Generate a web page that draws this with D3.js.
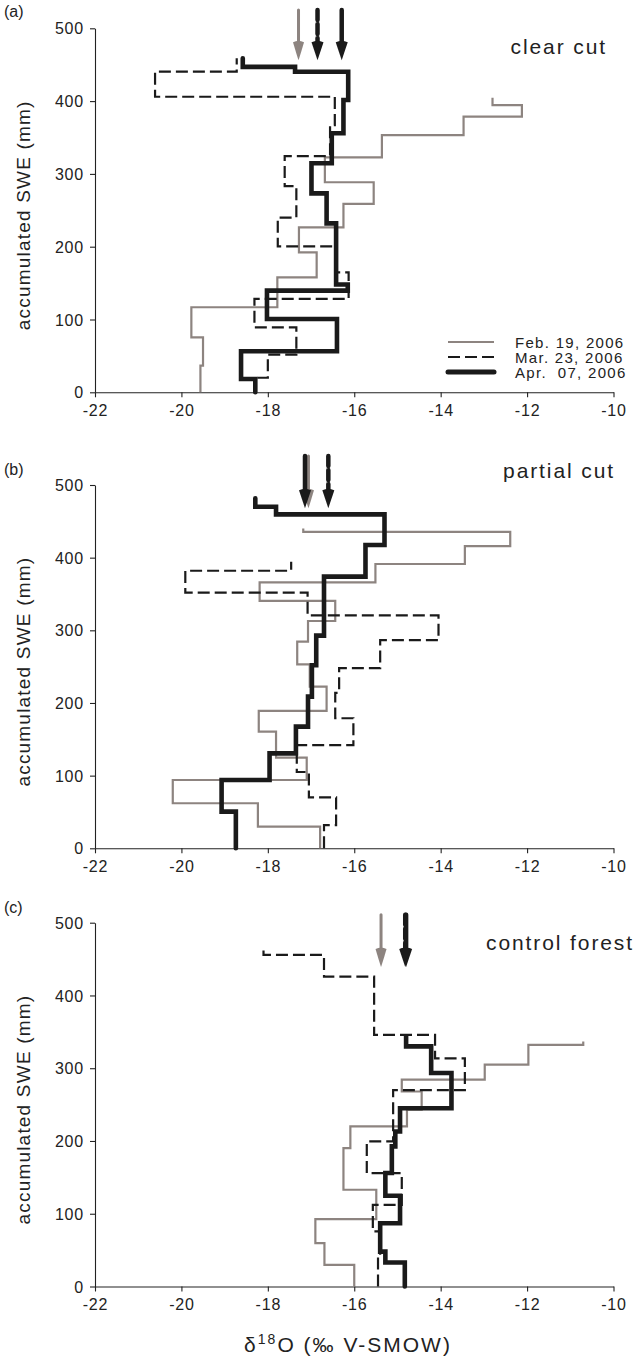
<!DOCTYPE html>
<html>
<head>
<meta charset="utf-8">
<script src="https://cdn.jsdelivr.net/npm/d3@7"></script>
<style>
  body { margin: 0; background: #fff; }
  svg { display: block; font-family: "Liberation Sans", Arial, sans-serif; }
</style>
</head>
<body>
<svg id="chart" width="636" height="1367"></svg>
<script>
// axis ticks
const xTicks = [-22, -20, -18, -16, -14, -12, -10];
const yTicks = [0, 100, 200, 300, 400, 500];

const seriesNames = ["Feb. 19, 2006", "Mar. 23, 2006", "Apr.  07, 2006"];
const panelLabels = ["(a)", "(b)", "(c)"];
const siteNames = ["clear cut", "partial cut", "control forest"];

// snowpack layers: boundaries in accumulated SWE (mm), one d18O value per layer
// clear cut
const clearFebSWE = [0, 36.6, 75.5, 116.8, 158, 192.3, 226.6, 258.7, 288.5, 322.8, 353.4, 378.6, 394.6, 404.7];
const clearFebD18O = [-19.56, -19.50, -19.77, -17.78, -16.87, -17.28, -16.25, -15.55, -16.68, -15.36, -13.47, -12.12, -12.80];
const clearMarSWE = [0, 20, 51.7, 89.3, 128.2, 164.8, 200.5, 240, 283.2, 324.4, 367, 406, 440.4, 458.8];
const clearMarD18O = [-18.30, -18.00, -17.34, -18.31, -16.13, -16.44, -17.77, -17.34, -17.61, -16.56, -16.45, -20.61, -18.72];
const clearAprSWE = [0, 18.3, 56.3, 100.7, 139.7, 148, 232, 273.3, 314.6, 355.8, 401.5, 440.4, 447, 458.8];
const clearAprD18O = [-18.29, -18.62, -16.40, -18.02, -16.15, -16.42, -16.64, -16.99, -16.52, -16.25, -16.14, -17.37, -18.58];
const clearArrows = [-17.29, -16.85, -16.29];

// partial cut
const partialFebSWE = [0, 29.8, 62, 94, 124.8, 160.6, 189, 222.5, 253, 284.4, 312.8, 340.4, 366, 391.3, 415.8, 435.5, 440];
const partialFebD18O = [-16.79, -18.23, -20.20, -17.10, -17.81, -18.21, -16.64, -17.03, -17.32, -17.07, -16.44, -18.19, -15.51, -13.44, -12.39, -17.18];
const partialMarSWE = [0, 32, 70, 105, 142, 179, 214, 248, 286.5, 320.5, 352, 382, 394.5];
const partialMarD18O = [-16.70, -16.42, -17.05, -17.33, -16.02, -16.44, -16.35, -15.40, -14.05, -17.08, -19.91, -17.46];
const partialAprSWE = [0, 50.5, 94, 130.7, 167.4, 208.7, 252, 292.7, 373.9, 417.4, 459.6, 470, 481.7];
const partialAprD18O = [-18.74, -19.07, -17.96, -17.35, -17.07, -16.98, -16.88, -16.70, -15.74, -15.30, -17.81, -18.29];
const partialArrows = [-17.06, -16.60, -17.14];

// control forest
const controlFebSWE = [0, 29.8, 59.6, 92.6, 133, 190.3, 220, 243, 268, 284.3, 305, 332, 336.7];
const controlFebD18O = [-16.00, -16.69, -16.90, -15.49, -16.25, -16.09, -14.78, -14.44, -14.90, -12.98, -11.97, -10.70];
const controlMarSWE = [0, 41.3, 75.7, 112.3, 155.8, 199.4, 270, 313.6, 345.8, 426, 455.7, 466];
const controlMarD18O = [-15.45, -15.40, -15.57, -14.90, -15.71, -15.10, -13.44, -14.13, -15.54, -16.70, -18.10];
const controlAprSWE = [0, 33, 48, 87, 124.7, 156, 192.6, 213, 245, 293.4, 330, 344];
const controlAprD18O = [-14.83, -15.28, -15.40, -14.94, -15.28, -15.13, -15.05, -14.94, -13.75, -14.22, -14.80];
const controlArrows = [-15.38, -14.82, -14.80];

const GREY = "#8d8480";
const styles = [
  { stroke: GREY, width: 2.2, dash: null, shaft: 3, head: GREY, shaftDash: null },
  { stroke: "#1a1a1a", width: 2.2, dash: "12,5", shaft: 4.5, head: "#1a1a1a", shaftDash: "10,4" },
  { stroke: "#1a1a1a", width: 4.6, dash: null, shaft: 4.5, head: "#1a1a1a", shaftDash: null }
];

const panels = [
  { y0: 392.3, y500: 28.3, arrowTail: 525, arrowTip: 456, labelY: 17, titleY: 54, titleX: 607,
    series: [[clearFebSWE, clearFebD18O], [clearMarSWE, clearMarD18O], [clearAprSWE, clearAprD18O]],
    arrows: clearArrows, legend: true },
  { y0: 848.3, y500: 485, arrowTail: 540, arrowTip: 468, labelY: 475, titleY: 478, titleX: 615,
    series: [[partialFebSWE, partialFebD18O], [partialMarSWE, partialMarD18O], [partialAprSWE, partialAprD18O]],
    arrows: partialArrows, legend: false },
  { y0: 1286.5, y500: 922.7, arrowTail: 511, arrowTip: 439, labelY: 913, titleY: 950, titleX: 634,
    series: [[controlFebSWE, controlFebD18O], [controlMarSWE, controlMarD18O], [controlAprSWE, controlAprD18O]],
    arrows: controlArrows, legend: false }
];

const svg = d3.select("#chart");
svg.append("rect").attr("width", 636).attr("height", 1367).attr("fill", "#fff");

const x = d3.scaleLinear().domain([-22, -10]).range([95, 613.5]);
const line = d3.line();

// turn layer table into a vertical step profile
function profile(swe, vals, y) {
  const pts = [];
  vals.forEach((v, i) => {
    pts.push([x(v), y(swe[i])]);
    pts.push([x(v), y(swe[i + 1])]);
  });
  return pts;
}

panels.forEach((p, pi) => {
  const y = d3.scaleLinear().domain([0, 500]).range([p.y0, p.y500]);
  const g = svg.append("g");

  // axes
  const ax = g.append("g")
    .attr("transform", `translate(0,${p.y0})`)
    .call(d3.axisBottom(x).tickValues(xTicks).tickSize(5).tickSizeOuter(0).tickPadding(7).tickFormat(d => String(d)));
  const ay = g.append("g")
    .attr("transform", `translate(${x(-22)},0)`)
    .call(d3.axisLeft(y).tickValues(yTicks).tickSize(5).tickSizeOuter(0).tickPadding(6).tickFormat(d => String(d)));
  [ax, ay].forEach(a => {
    a.selectAll("path, line").attr("stroke", "#222").attr("stroke-width", 1.1);
    a.selectAll("text").attr("fill", "#222").style("font-size", "16px").style("letter-spacing", "0.8px");
  });
  ay.selectAll("text").attr("dy", "0.35em");

  g.append("text")
    .attr("transform", `translate(30,${(p.y0 + p.y500) / 2 + 5}) rotate(-90)`)
    .attr("text-anchor", "middle")
    .style("font-size", "19px").style("letter-spacing", "1.2px")
    .attr("fill", "#222")
    .text("accumulated SWE (mm)");

  g.append("text").attr("x", 4).attr("y", p.labelY)
    .style("font-size", "16px").attr("fill", "#222").text(panelLabels[pi]);

  g.append("text").attr("x", p.titleX).attr("y", p.titleY)
    .attr("text-anchor", "end")
    .style("font-size", "21px").style("letter-spacing", "1.9px")
    .attr("fill", "#222").text(siteNames[pi]);

  // profiles
  p.series.forEach((s, si) => {
    const st = styles[si];
    g.append("path")
      .attr("d", line(profile(s[0], s[1], y)))
      .attr("fill", "none")
      .attr("stroke", st.stroke)
      .attr("stroke-width", st.width)
      .attr("stroke-dasharray", st.dash)
      .attr("stroke-linejoin", "miter")
      .attr("stroke-linecap", si === 2 ? "round" : "butt");
  });

  // mean-value arrows
  p.arrows.forEach((v, si) => {
    const st = styles[si];
    const ax0 = x(v), yt = y(p.arrowTail), yp = y(p.arrowTip);
    const headLen = 18, headW = si === 0 ? 11 : 12;
    g.append("line")
      .attr("x1", ax0).attr("x2", ax0)
      .attr("y1", yt).attr("y2", yp - headLen + 2)
      .attr("stroke", st.head).attr("stroke-width", st.shaft)
      .attr("stroke-linecap", "round")
      .attr("stroke-dasharray", st.shaftDash);
    g.append("path")
      .attr("d", `M${ax0 - headW / 2},${yp - headLen} Q${ax0},${yp - headLen - 3} ${ax0 + headW / 2},${yp - headLen} Q${ax0 + 2},${yp - 6} ${ax0},${yp} Q${ax0 - 2},${yp - 6} ${ax0 - headW / 2},${yp - headLen}Z`)
      .attr("fill", st.head);
  });

  if (p.legend) {
    const lg = g.append("g");
    seriesNames.forEach((n, si) => {
      const st = styles[si];
      const ly = 342 + si * 15;
      lg.append("line")
        .attr("x1", 448).attr("x2", 494).attr("y1", ly).attr("y2", ly)
        .attr("stroke", st.stroke).attr("stroke-width", si === 2 ? 5 : st.width)
        .attr("stroke-dasharray", st.dash).attr("stroke-linecap", si === 2 ? "round" : "butt");
      lg.append("text").attr("x", 515).attr("y", ly + 5.5)
        .style("font-size", "15px").style("letter-spacing", "1.3px").style("white-space", "pre")
        .attr("fill", "#222").text(n);
    });
  }
});

// x axis title
const xt = svg.append("text")
  .attr("x", 348).attr("y", 1352)
  .attr("text-anchor", "middle")
  .style("font-size", "21px").style("letter-spacing", "2px")
  .attr("fill", "#222");
xt.append("tspan").text("\u03b4");
xt.append("tspan").attr("dy", -8).style("font-size", "14px").text("18");
xt.append("tspan").attr("dy", 8).text("O (\u2030 V-SMOW)");
</script>
</body>
</html>
